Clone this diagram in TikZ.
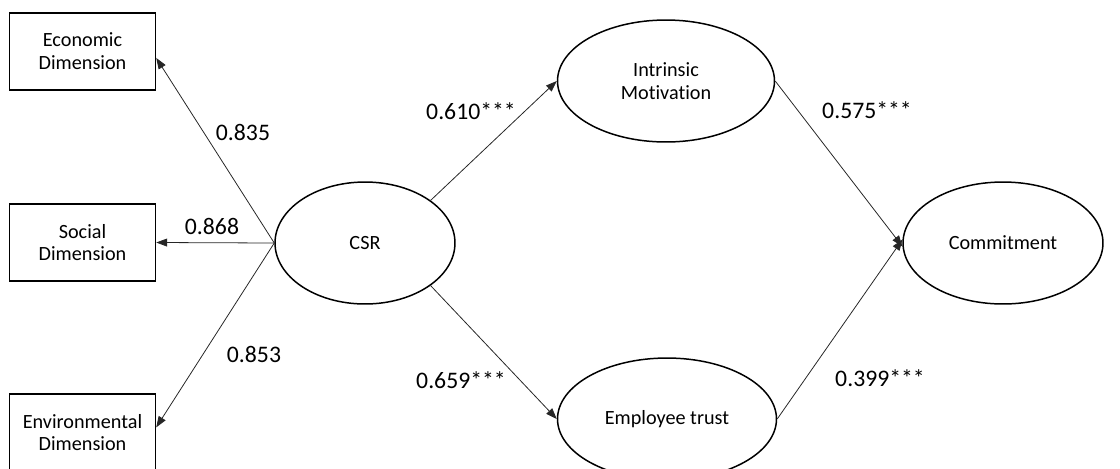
\documentclass[tikz,border=0pt]{standalone}
\usepackage{fontspec}
\setmainfont{Carlito}[RawFeature=-liga]
\usetikzlibrary{shapes.geometric,arrows.meta}
\tikzset{
	construct/.style={draw,line width=0.85pt,ellipse,minimum width=#1,minimum height=2.44cm,inner sep=0pt,align=center,font=\fontsize{11.5}{13}\selectfont},
	dimbox/.style={draw,line width=0.85pt,rectangle,minimum width=2.92cm,minimum height=1.54cm,inner sep=0pt,align=center,font=\fontsize{11.5}{13}\selectfont},
	link/.style={-{Triangle[length=2.2mm,width=1.6mm]},black!85,line width=0.45pt},
	coef/.style={font=\fontsize{13.5}{15}\selectfont}
}
\begin{document}
\begin{tikzpicture}[x=0.02cm,y=-0.02cm]
		\useasboundingbox (0,0) rectangle (1120,468);
		\clip (0,0) rectangle (1120,468);
		
		\node[dimbox] (econ) at (82.5,51.5) {Economic\\Dimension};
		\node[dimbox] (social) at (82.5,242.5) {Social\\Dimension};
		\node[dimbox] (env) at (82.5,432.5) {Environmental\\Dimension};
		
		\node[construct=3.6cm] (csr) at (365,243) {CSR};
		\node[construct=4.34cm] (motiv) at (666,81) {Intrinsic\\Motivation};
		\node[construct=4.38cm] (trust) at (667,419) {Employee trust};
		\node[construct=4cm] (commit) at (1003,243) {Commitment};
		
		\draw[link] (csr.west) -- (econ.-5);
		\draw[link] (csr.west) -- (social.east);
		\draw[link] (csr.west) -- (env.4);
		\draw[link] (csr.33) -- (motiv.west);
		\draw[link] (csr.-33) -- (trust.west);
		\draw[link] (motiv.east) -- (commit.182);
		\draw[link] (trust.east) -- (commit.178);
		
		\node[coef] (l835) at (243,132) {0.835};
		\node[coef] (l868) at (212,226) {0.868};
		\node[coef] (l853) at (254,354) {0.853};
		\node[coef] (l610) at (471,111) {0.610***};
		\node[coef] (l659) at (461,380) {0.659***};
		\node[coef] (l575) at (867,110) {0.575***};
		\node[coef] (l399) at (880,378) {0.399***};
	\end{tikzpicture}
\end{document}
